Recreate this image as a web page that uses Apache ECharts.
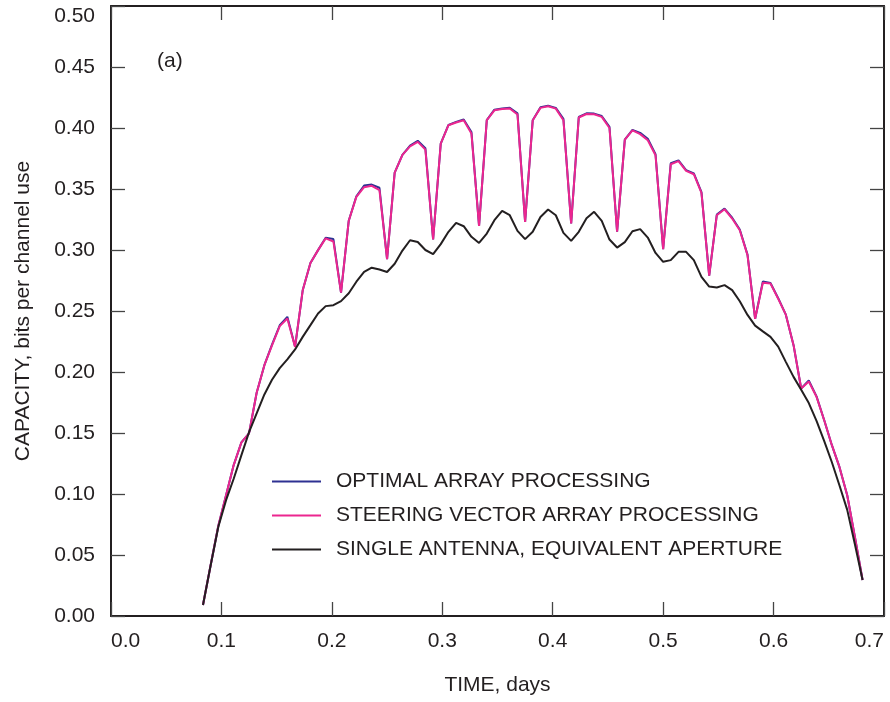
<!DOCTYPE html>
<html>
<head>
<meta charset="utf-8">
<script src="https://cdn.jsdelivr.net/npm/echarts@6/dist/echarts.min.js"></script>
<style>html,body{margin:0;padding:0;background:#fff}#c{width:890px;height:702px}</style>
</head>
<body>
<div id="c"></div>
<script>
// time in days (10-minute samples)
var timeDays = [0.0833,0.0903,0.0972,0.1042,0.1111,0.1181,0.1250,0.1319,0.1389,0.1458,
0.1528,0.1597,0.1667,0.1736,0.1806,0.1875,0.1944,0.2014,0.2083,0.2153,
0.2222,0.2292,0.2361,0.2431,0.2500,0.2569,0.2639,0.2708,0.2778,0.2847,
0.2917,0.2986,0.3056,0.3125,0.3194,0.3264,0.3333,0.3403,0.3472,0.3542,
0.3611,0.3681,0.3750,0.3819,0.3889,0.3958,0.4028,0.4097,0.4167,0.4236,
0.4306,0.4375,0.4444,0.4514,0.4583,0.4653,0.4722,0.4792,0.4861,0.4931,
0.5000,0.5069,0.5139,0.5208,0.5278,0.5347,0.5417,0.5486,0.5556,0.5625,
0.5694,0.5764,0.5833,0.5903,0.5972,0.6042,0.6111,0.6181,0.6250,0.6319,
0.6389,0.6458,0.6528,0.6597,0.6667,0.6736,0.6806];

var steeringCap = [0.009,0.042,0.074,0.099,0.1237,0.1423,0.1497,0.183,0.2056,0.2218,
0.2376,0.2439,0.2206,0.267,0.2894,0.2999,0.3095,0.307,0.265,0.324,
0.3435,0.3515,0.3526,0.349,0.2925,0.3635,0.378,0.385,0.3886,0.3823,
0.3086,0.3872,0.4023,0.4045,0.4064,0.3955,0.3198,0.4064,0.4145,0.4156,
0.416,0.411,0.323,0.4064,0.4165,0.4178,0.4159,0.4064,0.3217,0.4086,
0.4115,0.4113,0.4091,0.400,0.315,0.3905,0.398,0.395,0.390,0.3777,
0.3007,0.3703,0.3728,0.3648,0.3621,0.3468,0.279,0.3285,0.3334,0.3258,
0.3162,0.2958,0.2436,0.2731,0.2726,0.260,0.247,0.222,0.1865,0.1922,
0.1797,0.1606,0.140,0.122,0.099,0.065,0.0295];

var optimalCap = [0.009,0.042,0.074,0.099,0.1237,0.1423,0.1497,0.183,0.2056,0.2225,
0.2383,0.2452,0.2206,0.267,0.2894,0.2999,0.3100,0.309,0.265,0.324,
0.3440,0.3528,0.3536,0.351,0.2925,0.3635,0.378,0.3855,0.3895,0.3835,
0.3086,0.3872,0.4025,0.4050,0.4070,0.3968,0.3198,0.4064,0.4150,0.4160,
0.4165,0.412,0.323,0.4064,0.4170,0.4182,0.4165,0.4075,0.3217,0.4090,
0.4120,0.4118,0.4098,0.401,0.315,0.3905,0.3985,0.396,0.3912,0.3785,
0.3007,0.3712,0.3735,0.3655,0.3628,0.3475,0.279,0.3290,0.3340,0.3265,
0.3168,0.2962,0.2436,0.2742,0.2730,0.2605,0.247,0.222,0.1865,0.1930,
0.1800,0.1606,0.140,0.122,0.099,0.065,0.0295];

var singleCap = [0.009,0.0418,0.0732,0.095,0.1125,0.1319,0.1507,0.166,0.1816,0.1937,
0.2032,0.2104,0.2185,0.2288,0.2384,0.248,0.254,0.2548,0.2581,0.2645,
0.274,0.282,0.2855,0.284,0.282,0.2887,0.2995,0.308,0.3066,0.300,
0.2966,0.3048,0.3149,0.3222,0.3195,0.3108,0.3058,0.3135,0.3244,0.332,
0.3285,0.3157,0.3089,0.3149,0.3271,0.3332,0.3285,0.314,0.3075,0.3149,
0.326,0.3313,0.3239,0.3086,0.302,0.3065,0.3154,0.3171,0.3102,0.2976,
0.2903,0.2917,0.2985,0.2985,0.2917,0.278,0.270,0.2693,0.2712,0.2671,
0.258,0.2468,0.238,0.2333,0.2288,0.2208,0.2083,0.196,0.1855,0.1745,
0.160,0.1435,0.126,0.107,0.087,0.059,0.0295];

var seriesNames = ['OPTIMAL ARRAY PROCESSING','STEERING VECTOR ARRAY PROCESSING','SINGLE ANTENNA, EQUIVALENT APERTURE'];
var xTitle = 'TIME, days';
var yTitle = 'CAPACITY, bits per channel use';
var panelLabel = '(a)';

function pairs(ys){ return timeDays.map(function(t,i){ return [t, ys[i]]; }); }

var ink = '#231f20';
var font = 'Liberation Sans, Arial, Helvetica, sans-serif';
var fs = 21;
var chart = echarts.init(document.getElementById('c'), null, {renderer:'canvas'});
var tickStyle = {show:true, inside:true, length:14, lineStyle:{color:'#444', width:1.3}};
var lineAx = {show:true, onZero:false, lineStyle:{color:ink, width:2}};
chart.setOption({
  animation:false,
  backgroundColor:'#fff',
  grid:{left:111, right:6, top:6, bottom:86, containLabel:false, outerBoundsMode:'none'},
  legend:{
    orient:'vertical', left:267, top:466, itemWidth:49, itemHeight:2, itemGap:13,
    icon:'rect',
    textStyle:{fontFamily:font, fontSize:fs, color:ink, padding:[0,0,0,10], lineHeight:21},
    data:seriesNames
  },
  graphic:[{type:'text', left:157, top:51, style:{text:panelLabel, font:fs+'px '+font, fill:ink}}],
  xAxis:[{
    type:'value', min:0, max:0.7, interval:0.1,
    name:xTitle, nameLocation:'middle', nameGap:59,
    nameTextStyle:{fontFamily:font, fontSize:fs, color:ink},
    axisLine:lineAx, axisTick:tickStyle, splitLine:{show:false},
    axisLabel:{fontFamily:font, fontSize:fs, color:ink, margin:15, alignMinLabel:'left', alignMaxLabel:'right',
      formatter:function(v){return v.toFixed(1);}}
  },{
    type:'value', position:'top', min:0, max:0.7, interval:0.1,
    axisLine:lineAx, axisTick:tickStyle, axisLabel:{show:false}, splitLine:{show:false}
  }],
  yAxis:[{
    type:'value', min:0, max:0.5, interval:0.05,
    name:yTitle, nameLocation:'middle', nameGap:77,
    nameTextStyle:{fontFamily:font, fontSize:fs, color:ink},
    axisLine:lineAx, axisTick:tickStyle, splitLine:{show:false},
    axisLabel:{fontFamily:font, fontSize:fs, color:ink, margin:16, verticalAlignMaxLabel:'top',
      formatter:function(v){return v.toFixed(2);}}
  },{
    type:'value', position:'right', min:0, max:0.5, interval:0.05,
    axisLine:lineAx, axisTick:tickStyle, axisLabel:{show:false}, splitLine:{show:false}
  }],
  series:[
    {name:seriesNames[0], type:'line', data:pairs(optimalCap), showSymbol:false, symbol:'none',
     lineStyle:{color:'#2e3192', width:2}, itemStyle:{color:'#2e3192'}},
    {name:seriesNames[1], type:'line', data:pairs(steeringCap), showSymbol:false, symbol:'none',
     lineStyle:{color:'#ec268f', width:2}, itemStyle:{color:'#ec268f'}},
    {name:seriesNames[2], type:'line', data:pairs(singleCap), showSymbol:false, symbol:'none',
     lineStyle:{color:ink, width:2}, itemStyle:{color:ink}}
  ]
});
</script>
</body>
</html>
